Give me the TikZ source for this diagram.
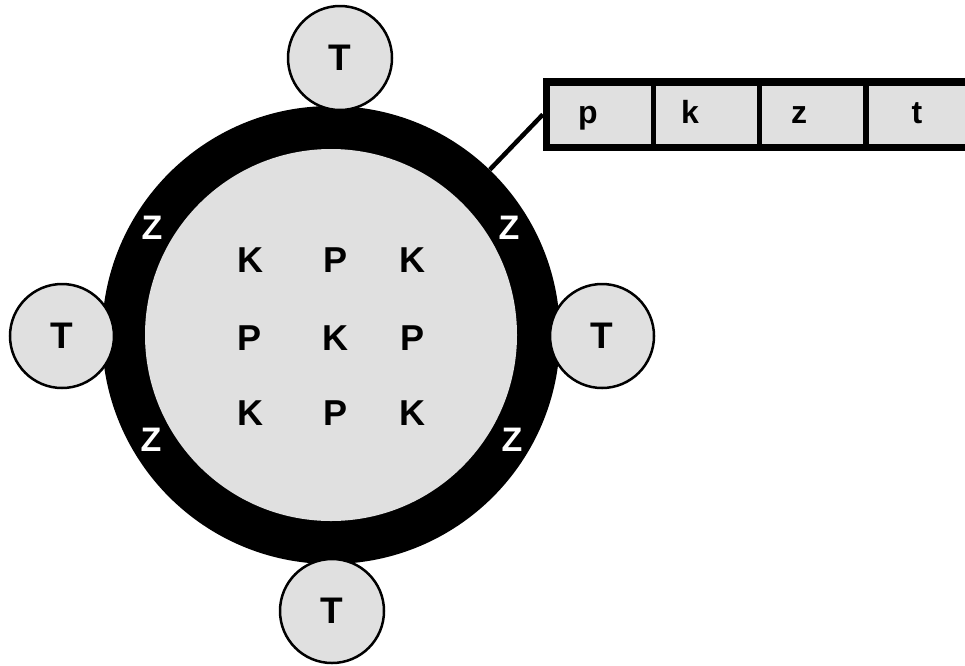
\documentclass[tikz,border=0pt]{standalone}
\usepackage{fontspec}
\setmainfont{Liberation Sans}
\usepackage{tikz}
\definecolor{dotgray}{gray}{0.88}
\tikzset{
    ring/.style={circle, fill=black, minimum size=458pt, inner sep=0pt},
    core/.style={circle, fill=dotgray, minimum size=372pt, inner sep=0pt},
    tip/.style={circle, fill=dotgray, draw, line width=2.5pt, minimum size=104pt,
    	inner sep=0pt, font=\fontsize{37}{37}\selectfont\bfseries},
    letter/.style={inner sep=0pt, font=\fontsize{36}{36}\selectfont\bfseries},
    zee/.style={letter, text=white, font=\fontsize{34}{34}\selectfont\bfseries},
    cell/.style={rectangle, fill=dotgray, inner sep=0pt, minimum width=101pt,
    	minimum height=58pt},
    small/.style={inner sep=0pt, anchor=base, font=\fontsize{32}{32}\selectfont\bfseries},
    link/.style={line width=4.5pt}
}

\begin{document}
\begin{tikzpicture}[x=1pt, y=-1pt]
	\useasboundingbox (0,0) rectangle (965,665);
	\clip (0,0) rectangle (965,665);

	\node (ring) [ring] at (331,335) {};
	\node (core) [core] at (331,335) {};

	\node (11) [letter] at (250,260) {K};
	\node (12) [letter] at (335,260) {P};
	\node (13) [letter] at (412,260) {K};
	\node (21) [letter] at (250,338) {P};
	\node (22) [letter] at (335,338) {K};
	\node (23) [letter] at (412,338) {P};
	\node (31) [letter] at (250,413) {K};
	\node (32) [letter] at (335,413) {P};
	\node (33) [letter] at (412,413) {K};

	\node (z1) [zee] at (152,228) {Z};
	\node (z2) [zee] at (509,228) {Z};
	\node (z3) [zee] at (151,440) {Z};
	\node (z4) [zee] at (512,440) {Z};

	\node (t1) [tip] at (340,58) {T};
	\node (t2) [tip] at (62,336) {T};
	\node (t3) [tip] at (602,336) {T};
	\node (t4) [tip] at (332,611) {T};

	% record
	\node (rec) [rectangle, fill=black, inner sep=0pt, minimum width=442pt,
		minimum height=73pt] at (764,114.5) {};
	\node (c1) [cell] at (600.5,115) {};
	\node (c2) [cell] at (706.5,115) {};
	\node (c3) [cell] at (812.5,115) {};
	\node (c4) [cell] at (919,115) {};
	\node (p) [small] at (588,123) {p};
	\node (k) [small] at (690,123) {k};
	\node (z) [small] at (799,123) {z};
	\node (t) [small] at (917,123) {t};

	\coordinate (hook) at (rec.west);
	\draw[link] (hook) -- (ring);
\end{tikzpicture}
\end{document}
